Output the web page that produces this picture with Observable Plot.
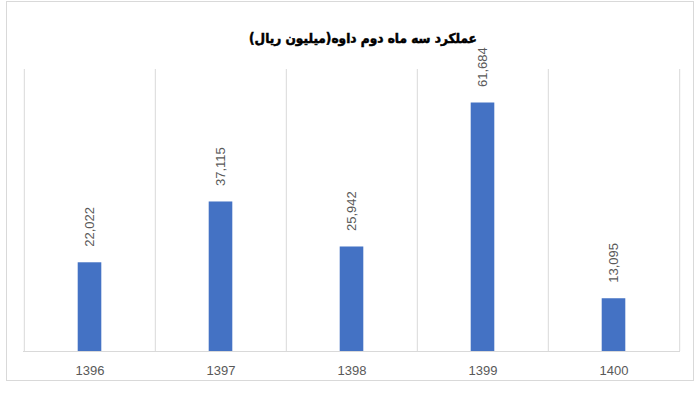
<!DOCTYPE html>
<html>
<head>
<meta charset="utf-8">
<script src="https://cdn.jsdelivr.net/npm/d3@7"></script>
<script src="https://cdn.jsdelivr.net/npm/@observablehq/plot@0.6"></script>
<style>
  html, body { margin: 0; padding: 0; background: #fff; }
  #wrap { position: relative; width: 700px; height: 400px; }
  #frame { position: absolute; left: 6px; top: 1px; width: 688px; height: 380px; border: 1px solid #d9d9d9; box-sizing: border-box; }
  #title { position: absolute; left: 0; width: 726px; top: 30px; text-align: center; direction: rtl;
           font-family: "DejaVu Sans Condensed", "DejaVu Sans", sans-serif; font-weight: bold; font-size: 13.5px; color: #000;
           -webkit-text-stroke: 0.5px #000; }
  #chart { position: absolute; left: 0; top: 0; }
</style>
</head>
<body>
<div id="wrap">
  <div id="frame"></div>
  <div id="chart"></div>
  <div id="title">عملکرد سه ماه دوم داوه(میلیون ریال)</div>
</div>
<script>
const years = ["1396", "1397", "1398", "1399", "1400"];
const values = [22022, 37115, 25942, 61684, 13095];
const data = years.map((y, i) => ({year: y, value: values[i]}));

const W = 700, H = 400, mL = 23, mR = 20, mT = 69, mB = 49;
const band = (W - mL - mR) / years.length;
const barW = 24;
const inset = (band - barW) / 2;
const fmt = d3.format(",");

const plot = Plot.plot({
  width: W,
  height: H,
  marginLeft: mL,
  marginRight: mR,
  marginTop: mT,
  marginBottom: mB,
  style: {fontFamily: "Arial, 'Liberation Sans', sans-serif", background: "transparent", overflow: "visible"},
  x: {domain: years, padding: 0, label: null},
  y: {domain: [0, 70000], axis: null},
  marks: [
    Plot.ruleX(years, {x: d => d, dx: -band / 2, stroke: "#d9d9d9", strokeWidth: 1}),
    Plot.ruleX([years[years.length - 1]], {x: d => d, dx: band / 2, stroke: "#d9d9d9", strokeWidth: 1}),
    Plot.barY(data, {x: "year", y: "value", fill: "#4472C4", insetLeft: inset, insetRight: inset}),
    Plot.ruleY([0], {stroke: "#d9d9d9", strokeWidth: 1.2}),
    Plot.text(data, {x: "year", y: "value", text: d => fmt(d.value), rotate: -90, textAnchor: "start", dy: -16, dx: 0, fill: "#595959", fontSize: 13, style: {letterSpacing: "1px"}}),
    Plot.axisX({tickSize: 0, tickPadding: 14, fontSize: 13, fill: "#595959", label: null, style: {letterSpacing: "1.2px"}})
  ]
});
document.getElementById("chart").appendChild(plot);
</script>
</body>
</html>
